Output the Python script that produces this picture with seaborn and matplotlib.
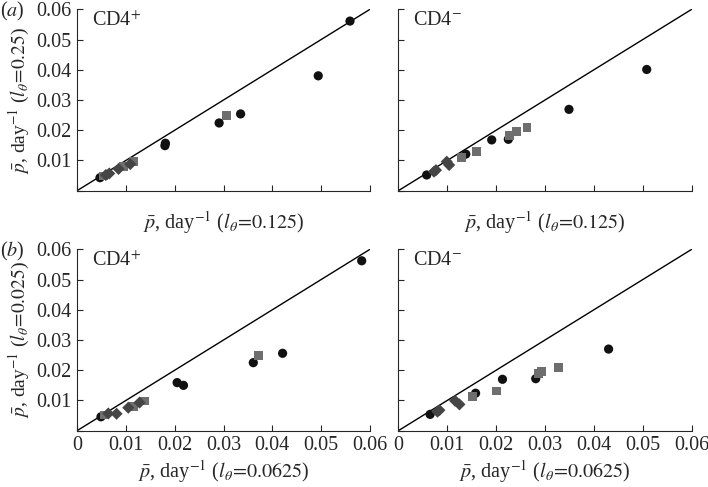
import numpy as np
import pandas as pd
import matplotlib
matplotlib.use("Agg")
import matplotlib.pyplot as plt
import seaborn as sns

sns.set_style("ticks")
plt.rcParams["font.family"] = ["Liberation Serif", "DejaVu Serif"]
plt.rcParams["mathtext.fontset"] = "stix"

# ---- data ----
# panel a, CD4+
a_pos_kind = ["circle", "circle", "circle", "circle", "square", "circle", "circle",
              "square", "diamond", "square", "diamond", "diamond", "diamond", "square", "circle"]
a_pos_x = [0.0559, 0.0494, 0.0335, 0.0291, 0.0306, 0.0181, 0.0180,
           0.0115, 0.0109, 0.0095, 0.0085, 0.0066, 0.0059, 0.0054, 0.0047]
a_pos_y = [0.0561, 0.0380, 0.0254, 0.0224, 0.0248, 0.0157, 0.0149,
           0.0096, 0.0088, 0.0079, 0.0072, 0.0057, 0.0052, 0.0049, 0.0043]
# panel a, CD4-
a_neg_kind = ["circle", "circle", "square", "square", "square", "circle", "circle",
              "square", "circle", "square", "diamond", "diamond", "diamond", "diamond", "circle"]
a_neg_x = [0.0508, 0.0349, 0.0263, 0.0241, 0.0227, 0.0225, 0.0191,
           0.0160, 0.0138, 0.0130, 0.0104, 0.0099, 0.0077, 0.0073, 0.0058]
a_neg_y = [0.0401, 0.0269, 0.0208, 0.0195, 0.0182, 0.0170, 0.0168,
           0.0129, 0.0121, 0.0109, 0.0085, 0.0096, 0.0068, 0.0063, 0.0052]
# panel b, CD4+
b_pos_kind = ["circle", "circle", "square", "circle", "circle", "circle",
              "square", "diamond", "square", "diamond", "diamond", "diamond", "square", "circle"]
b_pos_x = [0.0583, 0.0421, 0.0371, 0.0361, 0.0218, 0.0205,
           0.0138, 0.0128, 0.0115, 0.0105, 0.0081, 0.0064, 0.0057, 0.0049]
b_pos_y = [0.0562, 0.0256, 0.0250, 0.0225, 0.0150, 0.0159,
           0.0098, 0.0093, 0.0079, 0.0076, 0.0056, 0.0057, 0.0052, 0.0046]
# panel b, CD4-
b_neg_kind = ["circle", "square", "square", "square", "circle", "circle", "square",
              "circle", "square", "diamond", "diamond", "diamond", "diamond", "circle"]
b_neg_x = [0.0430, 0.0327, 0.0293, 0.0286, 0.0281, 0.0213, 0.0200,
           0.0158, 0.0151, 0.0125, 0.0116, 0.0084, 0.0080, 0.0065]
b_neg_y = [0.0270, 0.0208, 0.0197, 0.0190, 0.0172, 0.0170, 0.0131,
           0.0124, 0.0113, 0.0087, 0.0099, 0.0068, 0.0063, 0.0054]

ticks = [0, 0.01, 0.02, 0.03, 0.04, 0.05, 0.06]
tick_labels = ["0", "0.01", "0.02", "0.03", "0.04", "0.05", "0.06"]

panels = [
    (a_pos_x, a_pos_y, a_pos_kind, "CD4$^{+}$"),
    (a_neg_x, a_neg_y, a_neg_kind, "CD4$^{-}$"),
    (b_pos_x, b_pos_y, b_pos_kind, "CD4$^{+}$"),
    (b_neg_x, b_neg_y, b_neg_kind, "CD4$^{-}$"),
]

markers = {"circle": "o", "square": "s", "diamond": "D"}
palette = {"circle": "#111111", "square": "#6e6e6e", "diamond": "#454545"}
sizes = {"circle": 44, "square": 40, "diamond": 38}

fig = plt.figure(figsize=(7.08, 4.87), dpi=100)
rects = [
    [0.1088, 0.6084, 0.4138, 0.3725],
    [0.5626, 0.6084, 0.4144, 0.3725],
    [0.1088, 0.1156, 0.4138, 0.3725],
    [0.5626, 0.1156, 0.4144, 0.3725],
]
FS = 14.5
LFS = 14.5
for i, (xs, ys, kinds, title) in enumerate(panels):
    ax = fig.add_axes(rects[i])
    df = pd.DataFrame({"x": xs, "y": ys, "kind": kinds})
    ax.plot([0, 0.06], [0, 0.06], color="black", lw=1.0, zorder=1)
    for k in ["circle", "square", "diamond"]:
        sub = df[df["kind"] == k]
        sns.scatterplot(data=sub, x="x", y="y", ax=ax, marker=markers[k],
                        color=palette[k], s=sizes[k], edgecolor="none",
                        legend=False, zorder=3)
    ax.set_xlim(0, 0.06)
    ax.set_ylim(0, 0.06)
    sns.despine(ax=ax)
    ax.set_xticks(ticks)
    ax.set_yticks(ticks)
    ax.tick_params(direction="in", length=4, width=0.8, labelsize=FS, pad=4)
    for s in ["left", "bottom"]:
        ax.spines[s].set_linewidth(0.8)
    if i < 2:
        ax.set_xticklabels([])
        xl = r"$\bar{p}$, day$^{-1}$ ($l_\theta\!=\!0.125$)"
        ax.set_xlabel(xl, fontsize=LFS, labelpad=9)
    else:
        ax.set_xticklabels(tick_labels)
        xl = r"$\bar{p}$, day$^{-1}$ ($l_\theta\!=\!0.0625$)"
        ax.set_xlabel(xl, fontsize=LFS, labelpad=2)
    if i % 2 == 0:
        ax.set_yticklabels([""] + tick_labels[1:])
        yl = (r"$\bar{p}$, day$^{-1}$ ($l_\theta\!=\!0.25$)" if i == 0
              else r"$\bar{p}$, day$^{-1}$ ($l_\theta\!=\!0.025$)")
        ax.set_ylabel(yl, fontsize=LFS - 0.5, labelpad=3)
    else:
        ax.set_yticklabels([])
        ax.set_ylabel("")
    ax.text(0.05, 0.99, title, transform=ax.transAxes, fontsize=FS,
            ha="left", va="top")

fig.text(0.0, 0.977, r"($\mathit{a}$)", fontsize=FS, ha="left", va="center")
fig.text(0.0, 0.484, r"($\mathit{b}$)", fontsize=FS, ha="left", va="center")

fig.savefig("out.png", dpi=100)
